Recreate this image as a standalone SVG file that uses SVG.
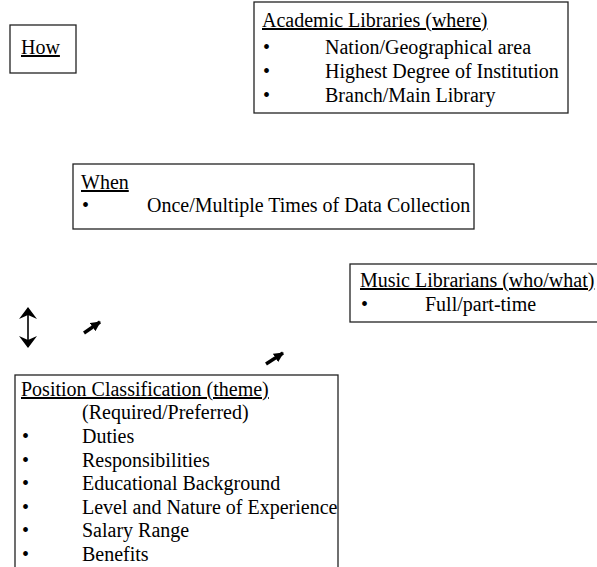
<svg xmlns="http://www.w3.org/2000/svg" width="597" height="567" viewBox="0 0 597 567">
<defs>
<style>
text{font-family:"Liberation Serif","Times New Roman",serif;font-size:20px;fill:#000}
.h{text-decoration:underline}
.box{fill:#fff;stroke:#222;stroke-width:1.3}
.conn{stroke:#000;fill:none}
</style>
<marker id="barb" viewBox="0 0 12 18" refX="11" refY="9" markerWidth="12" markerHeight="18" markerUnits="userSpaceOnUse" orient="auto-start-reverse">
<path d="M0,0 L12,9 L0,18 L4,9 Z" fill="#000"/>
</marker>
<marker id="fat" viewBox="0 0 10 10" refX="9" refY="5" markerWidth="10" markerHeight="10" markerUnits="userSpaceOnUse" orient="auto">
<path d="M0,0 L10,5 L0,10 Z" fill="#000"/>
</marker>
</defs>
<rect width="597" height="567" fill="#fff"/>
<g id="how">
<rect class="box" x="10" y="25" width="66" height="48"/>
<text class="h" x="21" y="54">How</text>
</g>
<g id="academic-libraries">
<rect class="box" x="254" y="2" width="314" height="111"/>
<text class="h" x="262" y="27">Academic Libraries (where)</text>
<text x="263" y="54">•</text><text x="325" y="54">Nation/Geographical area</text>
<text x="263" y="78">•</text><text x="325" y="78">Highest Degree of Institution</text>
<text x="263" y="102">•</text><text x="325" y="102">Branch/Main Library</text>
</g>
<g id="when">
<rect class="box" x="73" y="164" width="401" height="65"/>
<text class="h" x="81" y="189">When</text>
<text x="82" y="212">•</text><text x="147" y="212">Once/Multiple Times of Data Collection</text>
</g>
<g id="music-librarians">
<rect class="box" x="350" y="264" width="260" height="58"/>
<text class="h" x="360" y="287">Music Librarians (who/what)</text>
<text x="361" y="311">•</text><text x="425" y="311">Full/part-time</text>
</g>
<g id="position-classification">
<rect class="box" x="15" y="375" width="323" height="205"/>
<text class="h" x="21" y="396">Position Classification (theme)</text>
<text x="82" y="419">(Required/Preferred)</text>
<text x="22" y="443">•</text><text x="82" y="443">Duties</text>
<text x="22" y="467">•</text><text x="82" y="467">Responsibilities</text>
<text x="22" y="490">•</text><text x="82" y="490">Educational Background</text>
<text x="22" y="514">•</text><text x="82" y="514">Level and Nature of Experience</text>
<text x="22" y="537">•</text><text x="82" y="537">Salary Range</text>
<text x="22" y="561">•</text><text x="82" y="561">Benefits</text>
</g>
<g id="connectors">
<line class="conn" x1="28" y1="308" x2="28" y2="347" stroke-width="1.6" marker-start="url(#barb)" marker-end="url(#barb)"/>
<line class="conn" x1="84" y1="333" x2="100" y2="322" stroke-width="3.4" marker-end="url(#fat)"/>
<line class="conn" x1="266" y1="364" x2="283" y2="353" stroke-width="3.4" marker-end="url(#fat)"/>
</g>
</svg>
